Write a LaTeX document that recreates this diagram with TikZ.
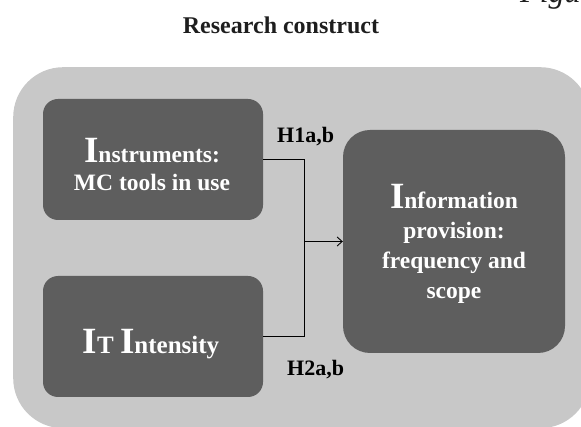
\documentclass[tikz,border=0pt]{standalone}
\usepackage{fontspec}
\setmainfont{Liberation Serif}
\usetikzlibrary{arrows.meta}
\definecolor{bggray}{HTML}{C8C8C8}
\definecolor{boxgray}{HTML}{5E5E5E}
\definecolor{titlecol}{HTML}{1E1E1E}
\newcommand\bigini[1]{{\fontsize{37}{29}\selectfont #1}}
\tikzset{
  panel/.style={fill=bggray, draw=none, rounded corners=50pt, inner sep=0pt, anchor=north west},
  darkbox/.style={fill=boxgray, draw=none, rounded corners=15pt, inner sep=0pt},
  boxtext/.style={text=white, align=center, inner sep=0pt, font=\bfseries\fontsize{23.5}{30}\selectfont},
  hlabel/.style={font=\bfseries\fontsize{22}{22}\selectfont, text=black, inner sep=0pt, anchor=base west},
  conn/.style={draw=black, line width=0.9pt},
}
\begin{document}
\begin{tikzpicture}[x=1pt,y=-1pt]
\useasboundingbox (0,0) rectangle (581,427);
\node[panel, minimum width=577pt, minimum height=361pt] (bg) at (13,67) {};
\node[font=\bfseries\fontsize{24}{24}\selectfont, text=titlecol, anchor=base, inner sep=0pt] (title) at (281,34) {Research construct};
\node[font=\itshape\fontsize{32}{32}\selectfont, text=titlecol, anchor=base west, inner sep=0pt] (fig) at (520,3) {Figu};
\node[darkbox, minimum width=220pt, minimum height=121pt] (instr) at (153,159.5) {};
\node[darkbox, minimum width=220pt, minimum height=121pt] (itint) at (153,336.5) {};
\node[darkbox, rounded corners=27pt, minimum width=222pt, minimum height=223pt] (info) at (454,241.5) {};
\node[boxtext, font=\bfseries\fontsize{23.5}{28}\selectfont] (instr-t) at (152,164.5) {\bigini{I}nstruments:\\MC tools in use};
\node[boxtext, font=\bfseries\fontsize{25}{29}\selectfont] (itint-t) at (151,344.5) {\bigini{I}T \bigini{I}ntensity};
\node[boxtext] (info-t) at (454,244) {\bigini{I}nformation\\provision:\\frequency and\\scope};
\coordinate (j) at (304.5,241.5);
\draw[conn] (instr.east) -| (j) |- (itint.east);
\draw[conn, -{Straight Barb[length=5pt,width=9pt]}] (j) -- (info.west);
\node[hlabel] (h1) at (277,143) {H1a,b};
\node[hlabel] (h2) at (287,375.5) {H2a,b};
\end{tikzpicture}
\end{document}
